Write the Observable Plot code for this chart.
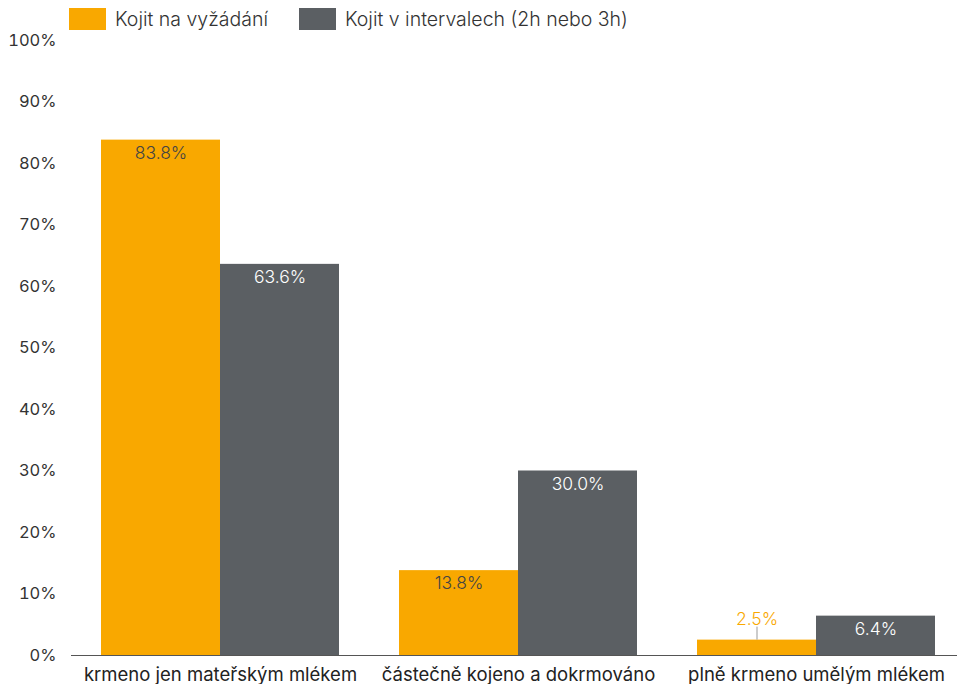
<!DOCTYPE html>
<html>
<head>
<meta charset="utf-8">
<script src="https://cdn.jsdelivr.net/npm/d3@7"></script>
<script src="https://cdn.jsdelivr.net/npm/@observablehq/plot@0.6"></script>
<style>
  body { margin: 0; background: #fff; font-family: Inter, "Open Sans", sans-serif; }
  #legend { height: 32px; display: flex; align-items: center; padding-left: 69px; box-sizing: border-box; padding-top: 6px; }
  .item { display: flex; align-items: center; margin-right: 31px; font-size: 19.5px; color: #333; font-weight: 300; }
  .swatch { width: 37px; height: 22px; margin-right: 9px; }
</style>
</head>
<body>
<div id="legend"></div>
<div id="chart"></div>
<script>
// Feeding outcome by recommended feeding schedule
const categories = ["krmeno jen mateřským mlékem", "částečně kojeno a dokrmováno", "plně krmeno umělým mlékem"];
const series = ["Kojit na vyžádání", "Kojit v intervalech (2h nebo 3h)"];
const onDemand = [83.8, 13.8, 2.5];
const scheduled = [63.6, 30.0, 6.4];
const colors = ["#F9A800", "#5B5F63"];
const yTicks = [0, 10, 20, 30, 40, 50, 60, 70, 80, 90, 100];

const rows = categories.flatMap((c, i) => [
  {category: c, series: series[0], value: onDemand[i]},
  {category: c, series: series[1], value: scheduled[i]}
]);
const fmt = v => v.toFixed(1) + "%";
// bars too short to hold their label get it above, with a leader line
const inside = rows.filter(d => d.value >= 5);
const outside = rows.filter(d => d.value < 5);

// legend
const legend = document.getElementById("legend");
series.forEach((s, i) => {
  const item = document.createElement("div");
  item.className = "item";
  const sw = document.createElement("div");
  sw.className = "swatch";
  sw.style.background = colors[i];
  const label = document.createElement("span");
  label.textContent = s;
  item.append(sw, label);
  legend.append(item);
});

const chart = Plot.plot({
  width: 957,
  height: 652,
  marginLeft: 70,
  marginRight: -9,
  marginTop: 8,
  marginBottom: 29,
  style: {fontFamily: "Inter, 'Open Sans', sans-serif", background: "transparent", overflow: "visible", color: "#333"},
  fx: {domain: categories, paddingInner: 0.2, paddingOuter: 0.1, label: null, axis: null},
  x: {domain: series, padding: 0, axis: null},
  y: {domain: [0, 100], axis: null},
  color: {domain: series, range: colors},
  marks: [
    Plot.barY(rows, {fx: "category", x: "series", y: "value", fill: "series"}),
    // baseline, widened so the facets' segments join into one line
    Plot.ruleY([0], {stroke: "#555", strokeWidth: 1, insetLeft: -30, insetRight: -30}),
    Plot.axisY({ticks: yTicks, tickFormat: d => d + "%", tickSize: 0, tickPadding: 0, dx: -45, fontSize: 16.5, fill: "#333", label: null}),
    Plot.axisFx({anchor: "bottom", tickSize: 0, tickPadding: 12, fontSize: 18.5, label: null, fill: "#222"}),
    Plot.text(inside.filter(d => d.series === series[0]), {fx: "category", x: "series", y: "value", text: d => fmt(d.value), dy: 13, fontSize: 17.5, fill: "#444", fontWeight: 300}),
    Plot.text(inside.filter(d => d.series === series[1]), {fx: "category", x: "series", y: "value", text: d => fmt(d.value), dy: 13, fontSize: 17.5, fill: "#fff", fontWeight: 300}),
    Plot.ruleX(outside, {fx: "category", x: "series", y1: "value", y2: "value", insetTop: -13, stroke: "#999"}),
    Plot.text(outside, {fx: "category", x: "series", y: "value", text: d => fmt(d.value), dy: -21, fontSize: 17.5, fill: colors[0], fontWeight: 300})
  ]
});
document.getElementById("chart").append(chart);
</script>
</body>
</html>
